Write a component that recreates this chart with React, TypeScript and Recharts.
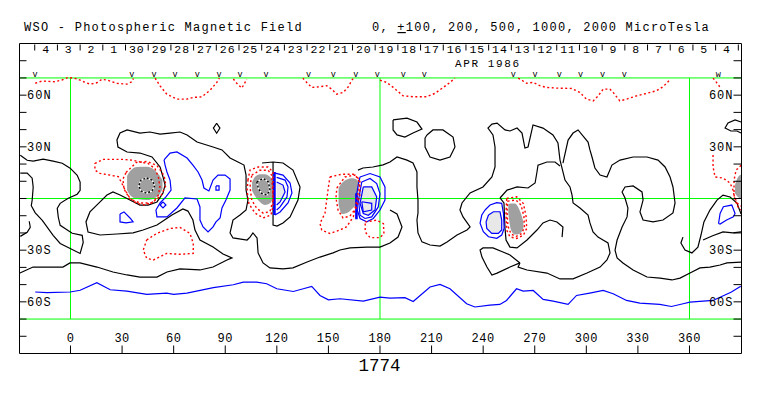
import React from 'react';
import { ComposedChart, Line, Area, Scatter, XAxis, YAxis, ReferenceLine } from 'recharts';

type P = [number, number];
type B = [number, number, number];

const FONT = '"Liberation Mono", "DejaVu Sans Mono", monospace';
const LON_DOMAIN: [number, number] = [-29.66, 390.25];
const LAT_DOMAIN: [number, number] = [-90, 90];

const lonTicks = [0, 30, 60, 90, 120, 150, 180, 210, 240, 270, 300, 330, 360];
const latTicks = [-80, -70, -60, -50, -40, -30, -20, -10, 0, 10, 20, 30, 40, 50, 60, 70, 80];
const latLabels: Record<number, string> = { 60: '60N', 30: '30N', [-30]: '30S', [-60]: '60S' };

// carrington day boundaries and day numbers (APR/MAY 1986)
const dayBounds = [-20.8, -7.6, 5.6, 18.8, 32.0, 45.2, 58.4, 71.6, 84.8, 98.0, 111.2, 124.4, 137.6, 150.8, 164.0, 177.2,
  190.4, 203.6, 216.8, 230.0, 243.2, 256.4, 269.6, 282.8, 296.0, 309.2, 322.4, 335.6, 348.8, 362.0, 375.2, 388.4];
const dayCenters = [-14.2, -1.0, 12.2, 25.4, 38.6, 51.8, 65.0, 78.2, 91.4, 104.6, 117.8, 131.0, 144.2, 157.4, 170.6, 183.8,
  197.0, 210.2, 223.4, 236.6, 249.8, 263.0, 276.2, 289.4, 302.6, 315.8, 329.0, 342.2, 355.4, 368.6, 381.8];
const dayNames = ['4', '3', '2', '1', '30', '29', '28', '27', '26', '25', '24', '23', '22', '21', '20', '19',
  '18', '17', '16', '15', '14', '13', '12', '11', '10', '9', '8', '7', '6', '5', '4'];
const obsDays = [-20.6, 35.6, 48.6, 60.8, 73.7, 86.4, 98.6, 113.7, 138.5, 152.8, 166.0, 178.4, 193.6, 205.8,
  257.5, 270.2, 284.3, 296.7, 309.5, 322.1];
const obsDouble = [376.8];

// ---- zero (neutral) contours, black
const kLeft: P[] = [[-29.2, 25.1], [-25.2, 22.2], [-21.7, 21.7], [-15.9, 22.8], [-10.1, 21.7], [-4.8, 20.5], [-0.2, 17.6],
  [3.9, 13.5], [5.6, 9.5], [5.6, 4.8], [3.9, 2.5], [-1.3, 0.1], [-6.0, -2.8], [-7.7, -5.7], [-7.1, -10.9], [-6.0, -15.6],
  [1.0, -20.2], [6.8, -21.4], [7.4, -25.5], [5.6, -31.9], [-0.2, -29.0], [-6.0, -26.1], [-10.1, -21.4], [-16.4, -12.7],
  [-20.5, -8.3], [-22.8, -4.2], [-22.3, -1.0], [-21.7, 6.5], [-22.3, 11.8], [-25.2, 14.7], [-29.2, 14.7]];
const kLeftPiece: P[] = [[-29.2, -22.0], [-25.2, -19.6], [-23.4, -16.7], [-24.0, -13.2]];
const kMain: P[] = [[-29.4, -43.3], [-21.8, -39.8], [-11.9, -39.8], [-4.4, -39.8], [-0.3, -37.4], [5.5, -37.4], [15.4, -39.8],
  [24.7, -42.7], [32.9, -44.4], [40.4, -45.6], [50.3, -45.6], [56.1, -42.7], [63.7, -40.9], [75.3, -41.5], [82.9, -39.8],
  [91.0, -35.7], [93.9, -34.5], [88.7, -32.2], [82.9, -28.2], [75.3, -24.1], [72.4, -18.3], [71.2, -12.5], [68.3, -7.3],
  [65.4, -6.1], [59.0, -9.6], [53.8, -13.1], [50.3, -15.4], [42.2, -18.3], [36.4, -20.0], [27.0, -20.6], [17.2, -21.2],
  [10.2, -19.5], [9.0, -13.6], [11.3, -7.8], [17.2, -2.0], [21.2, 2.0], [24.7, 3.8], [28.8, 2.0], [34.6, -0.9], [40.4, -3.8],
  [45.1, -3.8], [50.3, -2.0], [53.8, 3.2], [55.0, 7.8], [53.8, 12.5], [52.1, 18.3], [47.4, 24.1], [40.4, 26.4], [32.9, 27.0],
  [27.6, 29.9], [27.0, 34.0], [28.8, 38.0], [32.9, 39.8], [40.4, 38.0], [46.2, 38.6], [52.1, 37.4], [57.9, 38.0], [63.7, 38.6],
  [67.8, 36.9], [73.6, 32.8], [82.9, 29.9], [88.1, 28.2], [92.8, 23.5], [97.4, 21.2], [100.9, 19.4], [102.1, 13.6],
  [102.1, 4.9], [103.2, -0.9], [102.1, -6.7], [98.6, -9.6], [94.5, -12.5], [92.8, -20.0], [94.5, -22.9], [102.7, -24.1],
  [104.4, -22.4], [106.1, -20.0], [108.5, -22.9], [109.1, -31.6], [112.0, -37.4], [116.0, -40.3], [123.6, -40.9],
  [129.4, -40.3], [137.6, -36.9], [145.1, -34.0], [152.7, -31.6], [156.7, -29.9], [162.6, -28.7], [172.4, -28.2],
  [180.0, -28.2], [185.8, -25.8], [190.5, -22.4], [192.8, -16.5], [189.9, -9.0], [185.8, -6.7]];
const k20: P[] = [[167.2, 16.5], [170.1, 17.7], [175.9, 18.3], [181.8, 19.5], [185.8, 21.2], [189.9, 24.1], [195.7, 22.3],
  [199.2, 20.6], [201.5, 15.4], [201.5, 6.7], [202.1, -0.9], [202.1, -8.4], [201.5, -12.5], [202.1, -20.0], [204.4, -25.2],
  [209.1, -27.0], [214.9, -27.6], [219.0, -25.2], [224.8, -21.2], [230.6, -18.3], [232.4, -16.5], [228.3, -10.7],
  [226.5, -6.7], [227.7, -2.6], [232.4, 3.2], [239.9, 6.7], [245.1, 12.5], [246.9, 18.3], [246.9, 29.9], [245.7, 36.9],
  [242.8, 40.9], [245.1, 43.2], [248.1, 43.8], [252.7, 39.8], [255.6, 39.2], [259.7, 40.9], [262.6, 38.0], [264.3, 29.3],
  [266.1, 29.9], [269.0, 42.7], [274.8, 40.9], [280.6, 36.9], [283.5, 32.2], [284.7, 22.3], [287.6, 10.7], [290.5, 6.7],
  [291.7, 2.0], [292.3, -2.6], [296.3, -5.5], [301.0, -9.6], [302.1, -14.2], [303.9, -19.4], [306.8, -22.4], [309.7, -24.1],
  [312.6, -25.8], [313.8, -31.6], [312.0, -35.7], [308.0, -39.8], [300.4, -43.3], [292.3, -46.7], [284.7, -46.7],
  [277.1, -43.3], [265.5, -41.5], [260.3, -39.8], [261.4, -37.4]];
const kLoop14: P[] = [[261.4, -37.4], [255.6, -32.8], [251.5, -31.1], [245.7, -28.7], [239.9, -28.7], [238.2, -29.9],
  [239.3, -34.0], [242.2, -39.8], [245.1, -44.4], [248.1, -43.3], [255.6, -39.8], [261.4, -37.4]];
const k13b: P[] = [[249.8, 0.3], [252.1, -2.6], [252.4, -9.6], [252.7, -17.1], [253.3, -24.1], [255.6, -28.2], [259.7, -28.7],
  [265.5, -24.1], [271.3, -18.3], [274.8, -14.2], [278.9, -12.5], [282.9, -13.6], [286.4, -16.5], [285.9, -22.4]];
const k13c: P[] = [[249.8, 0.3], [253.9, 4.9], [259.7, 6.7], [266.1, 6.1], [270.2, 9.0], [271.3, 15.4], [271.9, 19.4],
  [277.1, 21.2], [281.8, 21.2], [284.7, 18.9]];
const kRight: P[] = [[286.4, 20.6], [289.4, 33.9], [292.3, 38.0], [295.2, 39.8], [301.0, 32.8], [302.1, 28.2], [303.3, 24.1],
  [305.0, 17.7], [308.0, 13.6], [312.0, 12.5], [314.9, 19.4], [319.6, 22.3], [327.2, 24.1], [335.3, 24.1], [341.7, 22.3],
  [345.8, 18.3], [348.7, 12.5], [350.4, 6.7], [351.6, -2.6], [350.4, -8.4], [344.6, -12.5], [338.8, -13.6], [333.0, -12.5],
  [331.2, -7.8], [333.0, -0.9], [332.4, 3.8], [327.2, 7.3], [322.5, 6.7], [320.8, 3.8], [322.5, 0.3], [324.2, -5.5],
  [323.7, -10.7], [320.8, -16.5], [317.9, -24.1], [316.7, -30.0], [317.9, -34.5], [321.3, -37.4], [327.2, -41.5],
  [335.3, -45.6], [342.9, -46.2], [349.8, -47.3], [354.5, -46.2], [360.3, -43.3], [366.1, -40.3], [371.9, -39.8],
  [377.8, -38.6], [381.8, -37.4], [390.0, -36.9]];
const kR1: P[] = [[390.0, -9.0], [387.6, -2.6], [383.6, 0.9], [379.5, 2.0], [376.0, -0.9], [371.9, -6.7], [368.4, -13.6],
  [366.7, -21.2], [364.9, -28.2], [361.4, -31.6], [357.4, -29.9], [355.0, -25.8], [356.2, -22.4]];
const kR2: P[] = [[390.0, -19.4], [385.3, -20.0], [379.5, -19.4], [373.1, -21.8], [367.9, -24.1]];
const kR3: P[] = [[390.0, 44.4], [386.5, 45.6], [382.4, 43.8], [380.7, 40.9], [384.1, 39.2], [387.6, 39.2], [390.0, 38.0]];
const k24: P[] = [[111.4, 20.6], [117.8, 21.2], [123.6, 20.6], [129.4, 16.5], [133.5, 6.7], [132.3, -0.9], [127.7, -10.7],
  [123.6, -14.2], [120.1, -16.0], [117.8, -15.4], [117.8, -6.7], [118.1, 4.9], [117.8, 13.6], [117.8, 21.2]];
const kLoopA: P[] = [[187.6, 45.6], [195.7, 46.7], [201.5, 44.4], [204.4, 40.3], [199.2, 38.0], [194.5, 35.7], [189.9, 36.9],
  [187.6, 39.8], [187.6, 45.6]];
const kLoopB: P[] = [[207.3, 36.9], [210.8, 39.8], [216.6, 39.8], [222.5, 35.7], [223.6, 29.9], [220.7, 24.1], [214.9, 22.3],
  [209.1, 24.1], [206.2, 29.9], [206.2, 35.1], [207.3, 36.9]];
const kDiamond: P[] = [[85.0, 43.7], [86.9, 40.9], [85.0, 37.9], [83.1, 40.9], [85.0, 43.7]];

// ---- negative contours, blue
const bSouth: P[] = [[-20.5, -54.3], [-13.7, -54.7], [-0.2, -54.3], [5.6, -53.3], [15.3, -48.9], [23.1, -53.0], [32.8, -53.8],
  [44.4, -55.7], [56.0, -54.9], [59.9, -55.7], [67.7, -54.9], [75.4, -53.3], [83.1, -51.8], [94.7, -50.1], [100.5, -48.6],
  [108.3, -48.6], [114.1, -49.5], [120.0, -52.4], [129.6, -54.0], [135.4, -52.4], [140.3, -51.0], [145.1, -56.3],
  [150.0, -58.8], [156.7, -58.2], [170.3, -59.6], [180.0, -57.3], [185.8, -57.8], [194.5, -57.6], [199.3, -59.8],
  [209.1, -51.4], [214.9, -49.9], [220.7, -52.4], [230.4, -61.1], [235.2, -63.0], [243.9, -61.9], [249.7, -61.5],
  [253.6, -59.2], [259.4, -52.4], [263.3, -53.8], [269.1, -53.4], [274.9, -58.6], [280.7, -59.6], [289.4, -61.5],
  [294.3, -56.3], [302.0, -54.9], [309.8, -53.4], [315.6, -55.3], [323.4, -59.2], [331.1, -60.7], [342.7, -61.5],
  [349.5, -62.7], [356.3, -61.1], [360.2, -60.2], [373.7, -59.2], [384.4, -54.3], [389.8, -51.0]];
const b29: P[] = [[54.4, 22.4], [57.9, 26.4], [61.9, 27.0], [67.8, 23.5], [71.2, 19.4], [74.2, 15.4], [76.5, 10.7], [77.6, 6.1],
  [80.5, 4.4], [82.9, 10.7], [85.8, 13.6], [89.9, 13.6], [92.8, 11.3], [92.8, 4.9], [90.4, -0.9], [88.1, -5.5], [87.0, -11.3],
  [84.6, -13.6], [82.9, -16.5], [80.0, -19.4], [77.1, -16.5], [75.3, -12.5], [75.3, -4.9], [73.6, -0.3], [66.6, 0.3],
  [61.9, -5.5], [56.1, -10.7], [50.3, -10.7], [49.7, -6.7], [52.1, -2.6], [55.5, 0.9], [58.5, 4.9], [57.9, 10.7], [56.1, 15.4],
  [55.0, 19.4], [54.4, 22.4]];
const bSmall1: P[] = [[28.8, -9.0], [31.1, -7.8], [34.6, -11.3], [36.4, -13.6], [32.3, -14.2], [28.8, -13.6], [28.8, -9.0]];
const bSmall2: P[] = [[53.8, -2.0], [55.5, -3.8], [53.8, -5.5], [52.1, -3.8], [53.8, -2.0]];
const bSmall3: P[] = [[84.6, 7.3], [86.4, 7.3], [86.4, 4.9], [84.6, 4.9], [84.6, 7.3]];
const b24a: P[] = [[118.9, 14.7], [123.6, 13.6], [127.7, 9.0], [128.8, 3.2], [126.5, -2.6], [121.9, -7.8], [118.9, -9.6]];
const b24b: P[] = [[119.9, 12.3], [124.8, 10.7], [126.5, 6.7], [125.9, 0.9], [121.9, -4.9], [119.9, -6.7]];
const b24c: P[] = [[119.9, 9.6], [123.6, 7.8], [124.8, 3.8], [121.9, -2.0], [119.9, -3.8]];
const b24edge: P[] = [[118.6, 15.4], [118.6, -9.6]];
const b20a: P[] = [[168.4, 12.5], [174.2, 14.5], [180.0, 12.5], [182.9, 6.7], [182.9, -0.9], [180.0, -6.7], [176.1, -11.6],
  [172.3, -13.5], [168.4, -11.6], [166.5, -5.8], [166.5, 2.9], [167.5, 8.7], [168.4, 12.5]];
const b20b: P[] = [[169.4, 9.6], [174.2, 11.6], [178.1, 8.7], [180.0, 2.9], [179.0, -4.9], [175.2, -10.7], [171.3, -11.6],
  [168.4, -9.7], [167.5, -0.9], [169.4, 9.6]];
const b20c: P[] = [[170.3, 6.7], [175.2, 6.7], [178.1, 0.9], [177.1, -6.7], [173.2, -9.7], [170.3, -8.7], [168.4, -2.9],
  [170.3, 6.7]];
const b20d: P[] = [[169.4, -1.9], [175.2, -2.8], [175.2, -6.7], [170.3, -7.7], [169.4, -1.9]];
const b20edge: P[] = [[166.3, 3.0], [166.3, -12.0]];
const b14a: P[] = [[241.1, -6.7], [244.0, -3.8], [247.9, -2.4], [250.8, -2.8], [251.8, -8.6], [252.2, -17.3], [250.8, -21.2],
  [247.9, -23.1], [243.1, -22.2], [240.1, -19.3], [238.2, -14.4], [239.2, -9.6], [241.1, -6.7]];
const b14b: P[] = [[243.1, -9.6], [246.0, -7.7], [249.8, -7.7], [250.8, -12.5], [250.8, -18.3], [248.8, -20.3], [245.0, -20.3],
  [242.1, -17.4], [241.7, -13.5], [243.1, -9.6]];
const bRight: P[] = [[376.9, -14.5], [377.8, -8.7], [379.7, -4.8], [384.6, -3.8], [386.5, -8.7], [385.5, -10.6], [381.6, -12.5],
  [377.8, -14.8], [376.9, -14.5]];

// ---- positive contours, red dotted
const rTopA: P[] = [[-20.5, 66.9], [-16.6, 68.2], [-8.9, 67.8], [-5.0, 68.8], [-1.2, 70.3], [3.7, 69.5], [7.6, 67.8],
  [11.4, 66.4], [15.3, 67.2], [18.3, 69.2], [21.2, 68.8], [24.1, 67.8], [27.0, 66.9], [32.8, 66.4], [35.7, 67.8], [36.6, 69.7]];
const rTopB: P[] = [[49.2, 69.9], [52.1, 65.4], [56.0, 60.6], [61.8, 57.7], [67.7, 57.7], [71.5, 58.7], [76.4, 59.0],
  [81.2, 62.9], [85.1, 67.4], [86.6, 69.9]];
const rTopC: P[] = [[94.7, 69.4], [96.7, 66.9], [99.6, 64.1], [101.0, 66.4], [102.5, 69.4]];
const rTopD: P[] = [[135.1, 69.9], [137.4, 67.4], [140.3, 64.5], [145.1, 64.9], [149.0, 65.5], [151.9, 63.5], [154.8, 60.6],
  [158.7, 61.6], [161.6, 64.9], [163.5, 68.4], [164.5, 69.9]];
const rTopE: P[] = [[180.0, 68.7], [183.9, 67.4], [187.7, 64.5], [193.5, 59.6], [199.3, 59.1], [207.1, 59.1], [211.9, 61.0],
  [216.8, 64.5], [220.7, 67.4], [223.6, 69.9]];
const rTopF: P[] = [[260.4, 69.9], [265.3, 66.9], [269.1, 67.4], [273.0, 65.5], [276.9, 64.5], [282.7, 64.1], [291.4, 63.9],
  [296.2, 61.6], [300.1, 57.7], [304.0, 56.7], [306.9, 59.6], [309.8, 63.5], [313.7, 63.5], [315.6, 61.6], [319.5, 56.7],
  [323.4, 57.7], [329.2, 59.6], [335.0, 61.0], [340.8, 62.6], [344.6, 64.9], [348.9, 69.2]];
const rTopG: P[] = [[373.7, 69.9], [375.7, 67.4], [377.6, 64.9]];
const r29a: P[] = [[14.2, 20.4], [19.1, 22.7], [24.9, 22.7], [30.7, 22.7], [36.5, 22.2], [40.4, 21.2], [45.2, 20.3],
  [49.1, 17.4], [51.1, 12.5], [52.0, 6.7], [51.1, 2.0], [48.2, -1.9], [43.3, -3.8], [38.5, -2.8], [34.6, 0.1], [31.7, 5.0],
  [29.8, 8.9], [27.8, 12.7], [23.0, 13.6], [17.2, 14.6], [14.2, 16.5], [14.2, 20.4]];
const r29b: P[] = [[32.3, 15.1], [38.3, 20.9], [44.5, 21.5], [50.3, 19.2], [54.4, 13.3], [55.5, 7.6], [52.7, 1.8], [47.4, -2.6],
  [40.4, -2.6], [34.6, -0.3], [31.1, 5.5], [30.5, 11.3], [32.3, 15.1]];
const r29s: P[] = [[44.3, -24.1], [50.1, -20.3], [57.9, -17.4], [63.7, -16.8], [69.5, -20.3], [71.4, -26.1], [71.4, -31.9],
  [63.7, -32.4], [55.9, -31.9], [52.0, -33.8], [48.2, -35.7], [44.3, -34.7], [42.3, -29.9], [44.3, -24.1]];
const r24a: P[] = [[105.4, 13.5], [110.2, 16.4], [115.0, 16.4], [117.0, 13.5], [117.9, -0.9], [116.0, -7.6], [112.1, -8.5],
  [108.3, -5.7], [105.4, -0.9], [104.4, 6.8], [105.4, 13.5]];
const r24b: P[] = [[103.2, 10.7], [104.4, 16.5], [109.1, 18.3], [114.9, 18.3], [117.8, 15.4], [117.8, -4.4], [116.6, -9.6],
  [112.0, -11.3], [107.3, -8.4], [103.8, -3.2], [102.7, 4.4], [103.2, 10.7]];
const r20a: P[] = [[150.9, 12.5], [157.7, 14.1], [164.5, 14.1], [167.4, 11.6], [168.0, 6.7], [166.5, -0.9], [164.5, -10.6],
  [160.6, -16.4], [156.7, -18.3], [150.9, -20.3], [146.1, -18.3], [145.1, -14.4], [148.0, -8.6], [149.0, -0.9], [150.0, 6.7],
  [150.9, 12.5]];
const r20b: P[] = [[154.9, 6.1], [159.6, 12.5], [165.4, 13.6], [168.3, 10.7], [168.3, 2.0], [166.5, -4.9], [162.5, -10.2],
  [158.5, -11.3], [155.6, -6.7], [154.4, 0.3], [154.9, 6.1]];
const r20s: P[] = [[171.4, -13.6], [178.1, -12.6], [182.0, -14.6], [182.3, -20.4], [180.0, -22.7], [174.2, -22.7],
  [171.4, -19.4], [171.4, -13.6]];
const r13a: P[] = [[253.7, 0.1], [259.5, 1.0], [263.4, -2.9], [265.0, -10.6], [265.3, -17.4], [263.4, -21.3], [259.5, -23.2],
  [255.6, -22.3], [253.7, -18.4], [253.3, -8.7], [253.7, 0.1]];
const r13b: P[] = [[254.2, -1.5], [259.1, -0.9], [262.0, -3.8], [263.7, -10.2], [264.0, -17.1], [262.0, -20.6], [259.1, -22.1],
  [256.2, -20.6], [254.4, -16.0], [253.9, -7.9], [254.2, -1.5]];
const rRightA: P[] = [[373.7, 25.3], [373.7, 18.3], [374.9, 12.5], [379.5, 11.9], [383.6, 9.0], [385.3, 4.9], [386.5, -0.9],
  [388.2, -4.9], [390.0, -6.7]];
const rRightB: P[] = [[390.0, 19.3], [387.1, 16.4], [385.9, 10.7], [385.9, 2.0], [387.6, -2.6], [390.0, -4.4]];

// strong positive cores (grey) as lon, lat-low, lat-high
const g29: B[] = [[32.9, 4.9, 13.1], [34.6, 2.0, 15.8], [38.7, -0.3, 18.3], [44.5, -0.9, 18.4], [49.1, 0.3, 16.3],
  [52.0, 2.6, 13.1], [53.5, 5.5, 10.7]];
const g24: B[] = [[105.6, 4.5, 9.5], [107.3, 1.5, 12.6], [110.2, -2.0, 14.1], [113.1, -3.8, 14.1], [116.0, -2.8, 12.6],
  [118.0, 0.5, 9.5]];
const g20: B[] = [[155.9, -3.8, 6.1], [157.9, -9.0, 9.0], [160.8, -8.4, 11.0], [163.7, -6.1, 11.7], [166.0, -3.2, 11.3],
  [167.5, 2.6, 9.6]];
const g13: B[] = [[254.6, -8.5, -3.2], [256.2, -18.3, -2.9], [258.5, -20.9, -2.9], [260.9, -20.6, -6.1], [262.6, -18.9, -10.7],
  [263.4, -17.1, -13.6]];
const gRight: B[] = [[386.5, 3.0, 8.0], [388.0, 1.0, 12.0], [390.0, 0.0, 14.0]];
// strong negative cores (light grey)
const l24: B[] = [[119.9, -3.8, 9.6], [121.9, -2.0, 8.7], [123.6, 0.0, 7.8], [124.8, 2.5, 5.0]];
const l20: B[] = [[168.4, -2.9, 2.0], [170.3, -8.7, 6.7], [173.2, -9.7, 6.7], [175.2, -9.2, 6.7], [177.1, -6.7, 2.5],
  [178.1, -3.0, 0.9]];
const l14: B[] = [[241.9, -16.5, -12.0], [244.0, -19.5, -9.0], [247.0, -20.3, -7.7], [250.0, -19.5, -8.0], [250.8, -18.0, -11.0]];
// weak dashed loops inside the cores
const d29: P[] = [[44.3, 11.9], [47.4, 10.7], [49.0, 7.4], [47.4, 4.4], [44.3, 3.1], [41.0, 4.4], [39.7, 7.4], [41.0, 10.7],
  [44.3, 11.9]];
const d24: P[] = [[108.3, 9.6], [112.2, 11.6], [115.1, 9.6], [116.0, 4.9], [114.1, 2.0], [111.2, 2.9], [109.3, 5.8], [108.3, 9.6]];

const blackLines = [kLeft, kLeftPiece, kMain, k20, kLoop14, k13b, k13c, kRight, kR1, kR2, kR3, k24, kLoopA, kLoopB, kDiamond];
const blueLines = [bSouth, b29, bSmall1, bSmall2, bSmall3, b24a, b24b, b24c, b20a, b20b, b20c, b20d, b14a, b14b, bRight];
const blueThick = [b24edge, b20edge];
const redLines = [rTopA, rTopB, rTopC, rTopD, rTopE, rTopF, rTopG, r29a, r29b, r29s, r24a, r24b, r20a, r20b, r20s, r13a, r13b,
  rRightA, rRightB];
const greyCores = [g29, g24, g20, g13, gRight];
const lightCores = [l24, l20, l14];
const dashedLoops = [d29, d24];

const pts = (a: P[]) => a.map(([x, y]) => ({ x, y }));
const band = (a: B[]) => a.map(([x, lo, hi]) => ({ x, r: [lo, hi] }));

const line = (key: string, data: P[], stroke: string, width: number, dash?: string) => (
  <Line key={key} yAxisId="l" data={pts(data)} dataKey="y" type="linear" stroke={stroke} strokeWidth={width}
    strokeDasharray={dash} dot={false} activeDot={false} isAnimationActive={false} legendType="none" />
);

const LeftTick = (p: any) => {
  const v = p.payload.value;
  return (
    <g>
      <line x1={p.x} x2={p.x + 7} y1={p.y} y2={p.y} stroke="#000" />
      {latLabels[v] && (
        <text x={p.x + 7.5} y={p.y + 4} fontFamily={FONT} fontSize={12} letterSpacing={1} fill="#000">{latLabels[v]}</text>
      )}
    </g>
  );
};
const RightTick = (p: any) => {
  const v = p.payload.value;
  return (
    <g>
      <line x1={p.x - 8} x2={p.x} y1={p.y} y2={p.y} stroke="#000" />
      {latLabels[v] && (
        <text x={p.x - 8} y={p.y + 4} textAnchor="end" fontFamily={FONT} fontSize={12} letterSpacing={1} fill="#000">
          {latLabels[v]}
        </text>
      )}
    </g>
  );
};
const BottomTick = (p: any) => (
  <g>
    <line x1={p.x} x2={p.x} y1={p.y - 8} y2={p.y} stroke="#000" />
    <text x={p.x} y={p.y - 11.5} textAnchor="middle" fontFamily={FONT} fontSize={12} letterSpacing={0.5} fill="#000">
      {p.payload.value}
    </text>
  </g>
);

export default function App() {
  const dayMarks = dayBounds.map((x) => ({ x, y: 90 }));
  const dayText = dayCenters.map((x, i) => ({ x, y: 84.7, label: dayNames[i] }));
  const obsText = [...obsDays.map((x) => ({ x, y: 70.8, label: 'v' })), ...obsDouble.map((x) => ({ x, y: 70.8, label: 'w' }))];
  return (
    <div style={{ position: 'absolute', left: 0, top: 0, width: 763, height: 396, background: '#fff' }}>
      <ComposedChart width={763} height={396} margin={{ top: 43.5, right: 0, bottom: 0, left: 0 }}>
        <XAxis type="number" dataKey="x" domain={LON_DOMAIN} allowDataOverflow ticks={lonTicks} interval={0}
          height={42.5} tickSize={0} tickMargin={0} tick={BottomTick} axisLine={{ stroke: '#000' }} tickLine={false} />
        <YAxis yAxisId="l" type="number" dataKey="y" domain={LAT_DOMAIN} allowDataOverflow ticks={latTicks} interval={0}
          width={19.5} tickSize={0} tickMargin={0} tick={LeftTick} axisLine={{ stroke: '#000' }} tickLine={false} />
        <YAxis yAxisId="r" orientation="right" type="number" dataKey="y" domain={LAT_DOMAIN} allowDataOverflow ticks={latTicks}
          interval={0} width={21.5} tickSize={0} tickMargin={0} tick={RightTick} axisLine={{ stroke: '#000' }} tickLine={false} />
        <ReferenceLine yAxisId="l" y={90} stroke="#000" />
        <ReferenceLine yAxisId="l" y={70} stroke="#00ff00" />
        <ReferenceLine yAxisId="l" y={0} stroke="#00ff00" />
        <ReferenceLine yAxisId="l" y={-70} stroke="#00ff00" />
        {[0, 180, 360].map((g) => (
          <Line key={'g' + g} yAxisId="r" data={[{ x: g, y: -70 }, { x: g, y: 70 }]} dataKey="y" stroke="#00ff00"
            strokeWidth={1} dot={false} activeDot={false} isAnimationActive={false} legendType="none" />
        ))}
        {greyCores.map((c, i) => (
          <Area key={'ga' + i} yAxisId="l" data={band(c)} dataKey="r" type="monotone" stroke="none" fill="#a0a0a0"
            fillOpacity={1} isAnimationActive={false} legendType="none" activeDot={false} />
        ))}
        {lightCores.map((c, i) => (
          <Area key={'la' + i} yAxisId="l" data={band(c)} dataKey="r" type="monotone" stroke="none" fill="#e8e8e8"
            fillOpacity={1} isAnimationActive={false} legendType="none" activeDot={false} />
        ))}
        {blackLines.map((c, i) => line('k' + i, c, '#000', 1.2))}
        {blueLines.map((c, i) => line('b' + i, c, '#0000ff', 1.2))}
        {blueThick.map((c, i) => line('bt' + i, c, '#0000ff', 2.6))}
        {redLines.map((c, i) => line('r' + i, c, '#ff0000', 1.4, '2 2.5'))}
        {dashedLoops.map((c, i) => line('dw' + i, c, '#ffffff', 1.4))}
        {dashedLoops.map((c, i) => line('dk' + i, c, '#000', 1.4, '2 2'))}
        <Scatter yAxisId="l" data={dayMarks} dataKey="y" isAnimationActive={false} legendType="none"
          shape={(p: any) => <line x1={p.cx} x2={p.cx} y1={p.cy + 1} y2={p.cy + 7} stroke="#000" />} />
        <Scatter yAxisId="l" data={dayText} dataKey="y" isAnimationActive={false} legendType="none"
          shape={(p: any) => (
            <text x={p.cx} y={p.cy} textAnchor="middle" fontFamily={FONT} fontSize={11.5} letterSpacing={1} fill="#000">
              {p.payload.label}
            </text>
          )} />
        <Scatter yAxisId="l" data={obsText} dataKey="y" isAnimationActive={false} legendType="none"
          shape={(p: any) => (
            <text x={p.cx} y={p.cy} textAnchor="middle" fontFamily={FONT} fontSize={8.5} fill="#000">{p.payload.label}</text>
          )} />
      </ComposedChart>
      <svg width={763} height={396} style={{ position: 'absolute', left: 0, top: 0, pointerEvents: 'none' }}>
        <text x={24} y={31} fontFamily={FONT} fontSize={12} letterSpacing={1.25} fill="#000">
          WSO - Photospheric Magnetic Field
        </text>
        <text x={372} y={31} fontFamily={FONT} fontSize={12} letterSpacing={1.25} fill="#000">
          0, <tspan textDecoration="underline">+</tspan>100, 200, 500, 1000, 2000 MicroTesla
        </text>
        <text x={455} y={66.8} fontFamily={FONT} fontSize={11} letterSpacing={1.6} fill="#000">APR 1986</text>
        <text x={358.5} y={371} fontFamily={FONT} fontSize={17.5} fill="#000">1774</text>
      </svg>
    </div>
  );
}
